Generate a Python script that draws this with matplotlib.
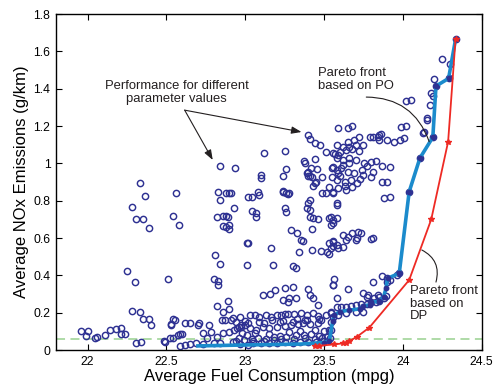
import matplotlib
matplotlib.use("Agg")
import matplotlib.pyplot as plt
import numpy as np

plt.rcParams['font.family'] = ['Liberation Sans', 'DejaVu Sans']

# Scatter: performance for different parameter values (fuel mpg, NOx g/km)
sc_x = [
 22.33,22.365,22.285,22.31,22.35,22.39,22.56,22.54,22.58,22.25,22.30,22.51,
 22.28,22.33,22.35,22.39,22.40,22.53,22.555,
 21.96,22.0,21.99,22.05,22.06,22.11,22.14,22.18,22.215,22.21,22.24,22.31,22.34,22.485,22.52,22.54,
 22.84,22.935,22.83,22.84,22.88,22.90,22.91,22.93,22.82,22.86,22.88,22.89,22.86,22.88,22.90,22.90,23.02,
 22.81,22.84,22.80,22.83,22.83,22.89,22.82,22.86,22.90,22.855,22.87,22.91,22.94,22.96,22.975,23.01,23.01,
 22.71,22.77,22.62,22.65,22.54,22.53,22.585,22.60,22.49,22.76,22.82,22.86,22.90,22.93,22.95,22.975,23.0,23.02,22.73,22.785,22.575,22.70,
 22.585,22.62,22.65,22.69,22.73,22.80,22.84,22.92,22.96,23.01,
 23.40,23.41,23.44,23.475,23.51,23.555,23.12,23.25,23.375,23.38,23.44,23.42,23.455,23.40,23.55,23.26,23.10,23.10,23.24,23.41,23.425,23.485,23.55,23.44,23.43,
 23.04,23.08,23.24,23.27,23.49,23.51,23.56,23.04,23.25,23.41,23.40,23.39,23.41,23.07,23.07,23.26,23.39,23.40,23.45,23.53,23.09,23.24,23.26,23.28,
 23.41,23.43,23.46,23.53,23.555,
 23.29,23.33,23.365,23.355,23.425,23.53,23.555,23.56,23.02,23.165,23.34,23.425,23.48,23.52,23.53,23.175,23.305,23.32,
 23.11,23.16,23.19,23.25,23.30,23.24,23.28,23.27,23.41,23.43,23.46,23.40,23.555,23.32,
 23.03,23.06,23.09,23.13,23.165,23.20,23.23,23.25,23.27,23.31,23.355,23.39,23.43,23.46,23.51,23.545,
 23.03,23.07,23.11,23.15,23.20,23.25,23.29,23.335,23.365,23.41,23.46,23.50,23.53,
 23.04,23.08,23.13,23.18,23.22,23.26,23.32,23.37,23.42,23.47,22.98,23.06,23.15,23.28,23.35,23.44,
 23.05,23.10,23.15,23.20,23.25,23.30,23.35,23.40,23.45,23.50,22.97,23.02,
 22.94,22.99,23.05,23.12,23.18,23.23,23.31,23.38,23.44,23.49,23.52,
 23.00,23.09,23.17,23.24,23.33,23.39,23.48,22.92,22.97,23.12,23.22,23.30,23.38,23.47,
 23.545,23.56,23.545,23.62,23.65,23.68,23.715,23.735,23.70,23.71,23.64,23.555,23.58,23.545,23.59,23.62,23.80,23.81,23.87,23.81,23.566,23.555,23.65,23.745,23.78,23.77,23.58,23.90,23.92,23.84,23.85,23.82,
 23.58,23.61,23.64,23.67,23.70,23.735,23.77,23.80,23.83,23.85,23.88,23.89,23.90,23.977,23.96,
 23.545,23.555,23.59,23.64,23.70,23.745,23.545,23.545,23.54,
 24.02,24.05,24.20,24.18,24.19,24.17,24.15,24.15,24.135,24.13,23.99,24.02,23.59,23.65,23.68,23.79,23.81,23.85,23.86,23.84,23.85,23.90,23.945,23.98,24.01,23.65,23.69,23.72,23.58,23.62,23.66,23.70,23.745,
 24.25,24.30,24.334,24.29,24.21,24.19,24.108,24.04,
 23.60,23.64,23.68,23.72,23.58,23.62,23.66,23.70,23.755,23.80,23.83,23.87,23.92,23.555,23.61,23.65,23.69,23.745,23.80,23.81,23.58,23.63,23.67,23.71,23.59,23.64,23.68,23.56,23.58,23.87,23.90,23.88,23.92,23.58,23.58,23.57,23.59,23.58,23.59,
 23.62,23.66,23.74,23.77,23.60,23.73,23.63,
]
sc_y = [
 0.893,0.826,0.764,0.70,0.70,0.655,0.843,0.718,0.67,0.425,0.366,0.38,
 0.21,0.202,0.164,0.166,0.134,0.137,0.16,
 0.104,0.104,0.077,0.066,0.068,0.08,0.109,0.111,0.118,0.086,0.086,0.039,0.041,0.046,0.063,0.066,
 0.986,0.975,0.848,0.803,0.84,0.843,0.84,0.759,0.714,0.718,0.718,0.71,0.664,0.66,0.67,0.646,0.82,
 0.51,0.46,0.38,0.37,0.348,0.264,0.236,0.205,0.22,0.16,0.16,0.16,0.152,0.125,0.134,0.571,0.455,
 0.143,0.134,0.146,0.143,0.164,0.134,0.086,0.086,0.045,0.063,0.071,0.089,0.098,0.107,0.116,0.125,0.134,0.143,0.089,0.098,0.08,0.134,
 0.021,0.027,0.032,0.036,0.032,0.039,0.036,0.045,0.063,0.08,
 1.152,1.128,1.11,1.10,1.059,1.053,1.057,1.068,1.014,1.003,1.021,0.973,0.968,0.955,0.973,0.97,0.937,0.92,0.932,0.932,0.925,0.925,0.929,0.893,0.878,
 0.821,0.846,0.853,0.836,0.839,0.843,0.848,0.745,0.762,0.803,0.786,0.759,0.75,0.732,0.714,0.741,0.946,0.934,0.902,0.875,0.83,0.848,0.839,0.843,
 0.714,0.705,0.70,0.709,0.696,
 0.643,0.625,0.585,0.589,0.648,0.571,0.559,0.584,0.571,0.545,0.523,0.536,0.53,0.523,0.513,0.455,0.452,0.441,
 0.295,0.298,0.321,0.33,0.336,0.268,0.277,0.255,0.295,0.277,0.241,0.327,0.348,0.277,
 0.187,0.187,0.178,0.187,0.178,0.187,0.187,0.191,0.193,0.191,0.196,0.187,0.196,0.184,0.187,0.202,
 0.116,0.107,0.125,0.116,0.125,0.13,0.134,0.137,0.143,0.137,0.143,0.10,0.107,
 0.06,0.065,0.058,0.07,0.075,0.07,0.078,0.082,0.085,0.075,0.09,0.09,0.085,0.095,0.10,0.105,
 0.04,0.035,0.04,0.037,0.042,0.04,0.045,0.045,0.042,0.05,0.03,0.028,
 0.05,0.055,0.048,0.05,0.055,0.058,0.06,0.062,0.058,0.065,0.07,
 0.155,0.15,0.16,0.158,0.165,0.16,0.163,0.17,0.175,0.145,0.148,0.152,0.16,0.165,
 0.714,0.679,0.67,0.616,0.607,0.625,0.634,0.625,0.589,0.598,0.589,0.58,0.562,0.545,0.545,0.553,0.595,0.598,0.398,0.366,0.38,0.348,0.327,0.304,0.295,0.286,0.277,0.366,0.375,0.295,0.286,0.277,
 0.232,0.232,0.232,0.237,0.241,0.245,0.245,0.255,0.259,0.262,0.277,0.291,0.384,0.411,0.40,
 0.196,0.178,0.187,0.196,0.205,0.202,0.152,0.107,0.063,
 1.334,1.339,1.45,1.375,1.362,1.312,1.241,1.232,1.169,1.16,1.196,1.20,1.187,1.187,1.20,1.143,1.139,1.152,1.157,1.139,1.125,1.125,1.116,1.125,1.134,1.116,1.125,1.139,1.098,1.089,1.089,1.098,1.098,
 1.557,1.53,1.664,1.455,1.414,1.14,1.028,0.848,
 1.062,1.071,1.075,1.068,1.027,1.018,1.027,1.018,1.0,1.009,1.014,0.986,0.982,0.982,0.973,0.955,0.946,0.937,0.928,0.955,0.911,0.902,0.911,0.893,0.866,0.857,0.875,0.839,0.786,0.902,0.902,0.813,0.821,0.777,0.705,1.05,1.044,0.964,0.946,
 0.99,1.0,0.965,0.985,0.93,0.915,0.88,
]

# Pareto front based on PO
po_x = [24.334,24.29,24.21,24.19,24.108,24.04,23.977,23.903,23.893,23.878,23.85,23.80,23.79,23.745,23.73,23.66,23.60,23.566,23.555,23.534,23.50,23.355,23.0,22.70]
po_y = [1.664,1.455,1.414,1.14,1.028,0.848,0.411,0.384,0.33,0.286,0.262,0.255,0.241,0.237,0.22,0.214,0.205,0.187,0.157,0.05,0.04,0.032,0.027,0.022]

# Pareto front based on DP
dp_x = [24.334,24.287,24.18,24.04,23.787,23.71,23.66,23.64,23.62,23.566,23.47,23.44]
dp_y = [1.664,1.116,0.70,0.375,0.12,0.072,0.047,0.039,0.036,0.03,0.023,0.022]

nox_limit = 0.06

x_ticks = [22, 22.5, 23, 23.5, 24, 24.5]
x_tick_labels = ["22", "22.5", "23", "23.5", "24", "24.5"]
y_ticks = [0, 0.2, 0.4, 0.6, 0.8, 1.0, 1.2, 1.4, 1.6, 1.8]
y_tick_labels = ["0", "0.2", "0.4", "0.6", "0.8", "1", "1.2", "1.4", "1.6", "1.8"]

navy = '#2e3192'
fig = plt.figure(figsize=(4.94, 3.84), dpi=100)
ax = fig.add_axes([0.1134, 0.0885, 0.8617, 0.875])

ax.axhline(nox_limit, color='#a8d8a0', lw=1.3, ls=(0, (5, 3)), zorder=1)
ax.plot(sc_x, sc_y, ls='none', marker='o', ms=4.5, mfc='none', mec=navy, mew=1.05, zorder=2)
ax.plot(po_x, po_y, color='#1b8bcc', lw=2.6, zorder=3)
ax.plot(po_x[:-3], po_y[:-3], ls='none', marker='o', ms=3.2, color='#2e3192', zorder=4)
ax.plot(dp_x, dp_y, color='#ee2a24', lw=1.3, marker='*', ms=4, zorder=5)

ax.set_xlim(21.8, 24.5)
ax.set_ylim(0, 1.8)
ax.set_xticks(x_ticks)
ax.set_xticklabels(x_tick_labels)
ax.set_yticks(y_ticks)
ax.set_yticklabels(y_tick_labels)
ax.tick_params(direction='in', top=True, right=True, length=4, width=0.8, labelsize=8.8, pad=4)
for s in ax.spines.values():
    s.set_linewidth(1.0)

ax.set_xlabel('Average Fuel Consumption (mpg)', fontsize=12, labelpad=1)
ax.set_ylabel('Average NOx Emissions (g/km)', fontsize=12, labelpad=3)

tc = '#231f20'
ax.text(22.566, 1.445, 'Performance for different\nparameter values', ha='center', va='top',
        fontsize=9.4, color=tc, linespacing=1.1)
ap = dict(arrowstyle='-|>,head_length=0.6,head_width=0.22', color=tc, lw=0.8, shrinkA=0, shrinkB=0)
ax.annotate('', xy=(22.794, 1.018), xytext=(22.616, 1.285), arrowprops=ap)
ax.annotate('', xy=(23.357, 1.168), xytext=(22.616, 1.285), arrowprops=ap)

ax.text(23.46, 1.515, 'Pareto front\nbased on PO', ha='left', va='top', fontsize=9.4, color=tc, linespacing=1.1)
ax.annotate('', xy=(24.167, 1.116), xytext=(23.768, 1.355),
            arrowprops=dict(arrowstyle='-', color=tc, lw=0.8, shrinkA=0, shrinkB=0,
                            connectionstyle='arc3,rad=-0.35'))

ax.text(24.045, 0.35, 'Pareto front\nbased on\nDP', ha='left', va='top', fontsize=9.4, color=tc, linespacing=1.1)
ax.annotate('', xy=(24.12, 0.536), xytext=(24.21, 0.364),
            arrowprops=dict(arrowstyle='-', color=tc, lw=0.8, shrinkA=0, shrinkB=0,
                            connectionstyle='arc3,rad=0.4'))

fig.savefig('out.png', dpi=100)
